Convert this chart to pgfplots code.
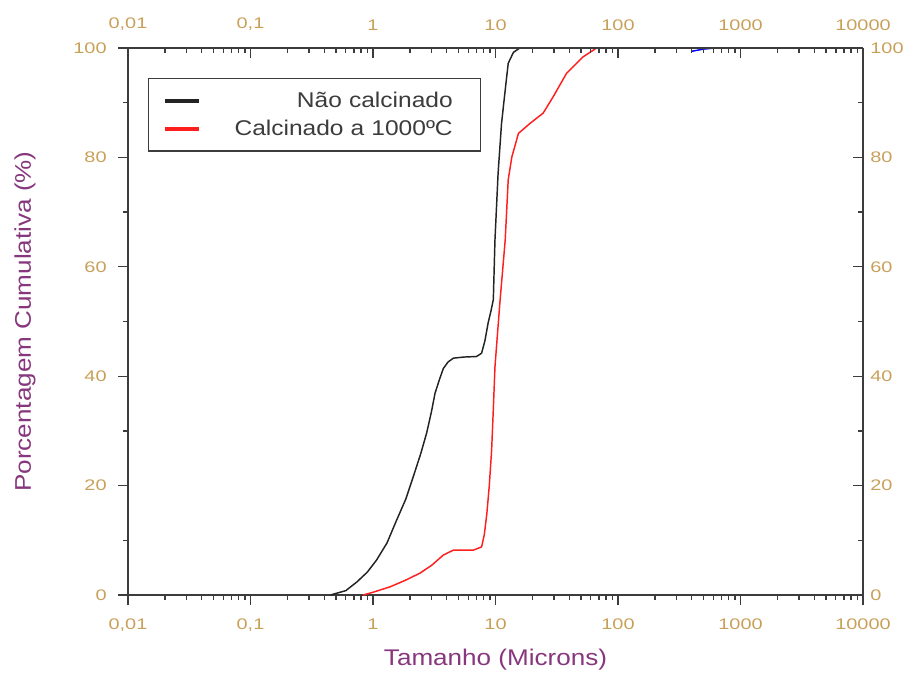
\documentclass[border=0pt]{standalone}
\usepackage{pgfplots}
\pgfplotsset{compat=1.18}
\usepackage{fontspec}
\setmainfont{Liberation Sans}
\newfontfamily\lab[FakeStretch=1.15]{Liberation Sans}
\newfontfamily\tk[FakeStretch=1.3]{Liberation Sans}
\definecolor{tickc}{RGB}{200,160,90}
\definecolor{labc}{RGB}{135,55,125}
\definecolor{axc}{RGB}{60,60,60}
\definecolor{legtxt}{RGB}{60,60,60}
\definecolor{curvek}{RGB}{35,35,35}
\definecolor{curver}{RGB}{255,30,30}
\begin{document}
\begin{tikzpicture}
\begin{axis}[name=ax,
    scale only axis, width=551.25pt, height=410.25pt,
    xmode=log, xmin=0.01, xmax=10000, ymin=0, ymax=100,
    xtick={0.01,0.1,1,10,100,1000,10000},
    xticklabels={{0,01},{0,1},1,10,100,1000,10000},
    minor xtick={0.02,0.03,0.04,0.05,0.06,0.07,0.08,0.09,
                 0.2,0.3,0.4,0.5,0.6,0.7,0.8,0.9,
                 2,3,4,5,6,7,8,9,
                 20,30,40,50,60,70,80,90,
                 200,300,400,500,600,700,800,900,
                 2000,3000,4000,5000,6000,7000,8000,9000},
    ytick={0,20,40,60,80,100},
    yticklabels={0,20,40,60,80,100},
    minor ytick={10,30,50,70,90},
    major tick length=7.5pt, minor tick length=4pt,
    tick style={axc, line width=1pt},
    tick label style={font=\tk\fontsize{11.5}{13}\selectfont, text=tickc},
    axis line style={axc, line width=1.3pt},
  axis x line*=bottom, axis y line*=left,
  tick align=outside,
  xticklabel style={yshift=-7pt},
  yticklabel style={xshift=-5pt},
  xlabel={Tamanho (Microns)},
  ylabel={Porcentagem Cumulativa (\%)},
  label style={font=\lab\fontsize{17}{20}\selectfont, text=labc},
  xlabel style={at={(axis description cs:0.5,-0.119)}, anchor=center},
  ylabel style={at={(axis description cs:-0.140,0.5)}, anchor=center},
  legend style={at={(axis description cs:0.027,0.945)}, anchor=north west,
    draw=axc, line width=1pt, font=\lab\fontsize{16}{19}\selectfont, text=legtxt,
    inner xsep=11pt, inner ysep=8pt, row sep=4pt,
    nodes={text width=195pt, align=right}},
  legend cell align=right,
  legend image code/.code={\draw[#1, line width=3.2pt] (2pt,0pt) -- (27pt,0pt);},
]
\addplot[curvek, line width=1.1pt, line join=round] coordinates {
(0.45,0) (0.6,0.8) (0.74,2.4) (0.9,4.2) (1.07,6.4) (1.3,9.5) (1.56,13.7)
(1.85,17.5) (2.13,21.6) (2.45,25.8) (2.74,29.6) (3.0,33.5) (3.21,36.9)
(3.5,39.5) (3.75,41.4) (4.1,42.6) (4.53,43.3) (5.5,43.5) (7.0,43.6)
(7.7,44.2) (8.2,46.5) (8.7,49.7) (9.2,52) (9.6,54) (9.9,64.9) (10.5,77.1)
(11.2,86.2) (12.0,92.3) (12.7,97.2) (14.0,99.2) (15.8,100) (17,100)
};
\addlegendentry{Não calcinado\hspace*{8pt}}
\addplot[curver, line width=1.1pt, line join=round] coordinates {
(0.83,0) (1.0,0.5) (1.38,1.5) (1.8,2.6) (2.42,4.0) (3.0,5.4) (3.75,7.3)
(4.53,8.2) (5.5,8.2) (6.6,8.2) (7.7,8.8) (8.1,11) (8.5,14.9) (8.9,20)
(9.3,26.5) (9.6,34) (9.9,41.7) (10.4,48) (10.9,53.9) (11.5,60) (12.0,64.9)
(12.7,75.9) (13.6,80.1) (15.4,84.4) (19.1,86.2) (24.5,88.1) (29.6,91.1)
(38.1,95.4) (52,98.4) (67,100) (75,100)
};
\addlegendentry{Calcinado a 1000ºC\hspace*{8pt}}
\addplot[blue, line width=1.1pt, forget plot] coordinates {
(400,99.4) (500,99.8) (620,100)
};
\end{axis}
\begin{axis}[
    scale only axis, width=551.25pt, height=410.25pt,
    xmode=log, xmin=0.01, xmax=10000, ymin=0, ymax=100,
    xtick={0.01,0.1,1,10,100,1000,10000},
    xticklabels={{0,01},{0,1},1,10,100,1000,10000},
    minor xtick={0.02,0.03,0.04,0.05,0.06,0.07,0.08,0.09,
                 0.2,0.3,0.4,0.5,0.6,0.7,0.8,0.9,
                 2,3,4,5,6,7,8,9,
                 20,30,40,50,60,70,80,90,
                 200,300,400,500,600,700,800,900,
                 2000,3000,4000,5000,6000,7000,8000,9000},
    ytick={0,20,40,60,80,100},
    yticklabels={0,20,40,60,80,100},
    minor ytick={10,30,50,70,90},
    major tick length=7.5pt, minor tick length=4pt,
    tick style={axc, line width=1pt},
    tick label style={font=\tk\fontsize{11.5}{13}\selectfont, text=tickc},
    axis line style={axc, line width=1.3pt},
  axis x line*=top, axis y line*=right,
  tick align=inside,
  xticklabel style={yshift=9.5pt},
  yticklabel style={xshift=2pt},
]
\addplot[draw=none, forget plot] coordinates {(1,50)};
\end{axis}
\pgfresetboundingbox
\path ([shift={(-96pt,-60pt)}]ax.south west) rectangle ([shift={(34.5pt,36pt)}]ax.north east);
\end{tikzpicture}
\end{document}
